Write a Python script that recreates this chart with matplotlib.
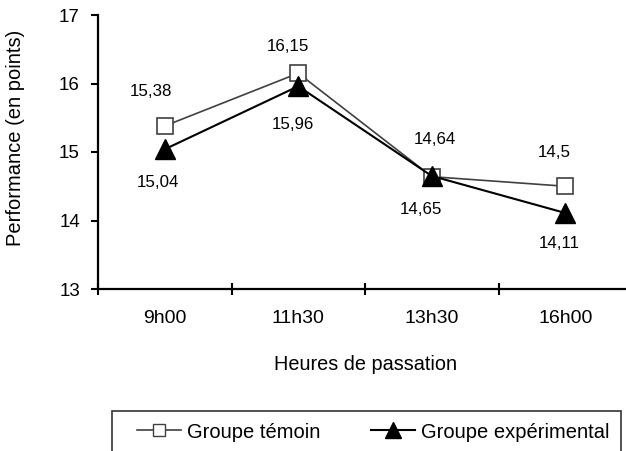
import matplotlib
matplotlib.use("Agg")
import matplotlib.pyplot as plt
from matplotlib.lines import Line2D
from matplotlib.patches import Rectangle

plt.rcParams['font.family'] = ['Liberation Sans', 'DejaVu Sans']

categories = ["9h00", "11h30", "13h30", "16h00"]
temoin = [15.38, 16.15, 14.64, 14.5]
experimental = [15.04, 15.96, 14.65, 14.11]
temoin_labels = ["15,38", "16,15", "14,64", "14,5"]
experimental_labels = ["15,04", "15,96", "14,65", "14,11"]
yticks = [13, 14, 15, 16, 17]

W, H = 626, 451
fig = plt.figure(figsize=(W / 100, H / 100), dpi=100)
ax = fig.add_axes([98/W, 1-289/H, 534/W, 274/H])

x = list(range(len(categories)))
ax.plot(x, temoin, color='#404040', lw=1.2, marker='s', markersize=11,
        markerfacecolor='white', markeredgecolor='#404040', markeredgewidth=1.2, zorder=3)
ax.plot(x, experimental, color='black', lw=1.5, marker='^', markersize=14,
        markerfacecolor='black', markeredgecolor='black', zorder=4)

t_off = [(-14, 34), (-10, 27), (3, 37), (-11, 34)]
e_off = [(-7, -33), (-5, -38), (-11, -34), (-6, -31)]
for xi, v, s, o in zip(x, temoin, temoin_labels, t_off):
    ax.annotate(s, (xi, v), xytext=o, textcoords='offset pixels', ha='center', va='center', fontsize=12.2)
for xi, v, s, o in zip(x, experimental, experimental_labels, e_off):
    ax.annotate(s, (xi, v), xytext=o, textcoords='offset pixels', ha='center', va='center', fontsize=12.2)

ax.set_xlim(-0.5, len(categories) - 0.5)
ax.set_ylim(13, 17)
ax.set_yticks(yticks)
ax.set_yticklabels([str(t) for t in yticks], fontsize=13.5)
ax.set_xticks([i - 0.5 for i in range(len(categories) + 1)])
ax.set_xticklabels([])
ax.set_xticks(x, minor=True)
ax.set_xticklabels(categories, minor=True, fontsize=14)
ax.tick_params(axis='x', which='major', direction='inout', length=9, width=1.5)
ax.tick_params(axis='x', which='minor', length=0, pad=15)
ax.tick_params(axis='y', direction='out', length=5, width=1.5, pad=8)
for s in ['top', 'right']:
    ax.spines[s].set_visible(False)
for s in ['left', 'bottom']:
    ax.spines[s].set_linewidth(1.6)
ax.spines['bottom'].set_clip_on(False)

fig.text(16/W, 1-138/H, "Performance (en points)", rotation=90, ha='center', va='center', fontsize=14.5)
fig.text(366/W, 1-365/H, "Heures de passation", ha='center', va='center', fontsize=14.3)

# legend frame (extends past the bottom edge as in the reference)
fig.patches.append(Rectangle((112/W, -0.05), (621-112)/W, (0.05 + 1 - 411/H),
                             transform=fig.transFigure, fill=False,
                             edgecolor='#333333', lw=1.2))
h1 = Line2D([], [], color='#404040', lw=1.2, marker='s', markersize=9,
            markerfacecolor='white', markeredgecolor='#404040')
h2 = Line2D([], [], color='black', lw=1.5, marker='^', markersize=11,
            markerfacecolor='black', markeredgecolor='black')
leg = fig.legend([h1, h2], ["Groupe témoin", "Groupe expérimental"], ncol=2,
                 loc='center left', bbox_to_anchor=(137/W, 1-432/H),
                 frameon=False, fontsize=14.5, borderpad=0, borderaxespad=0,
                 handlelength=2.2, handletextpad=0.3, columnspacing=2.5)

fig.savefig("out.png", dpi=100)
